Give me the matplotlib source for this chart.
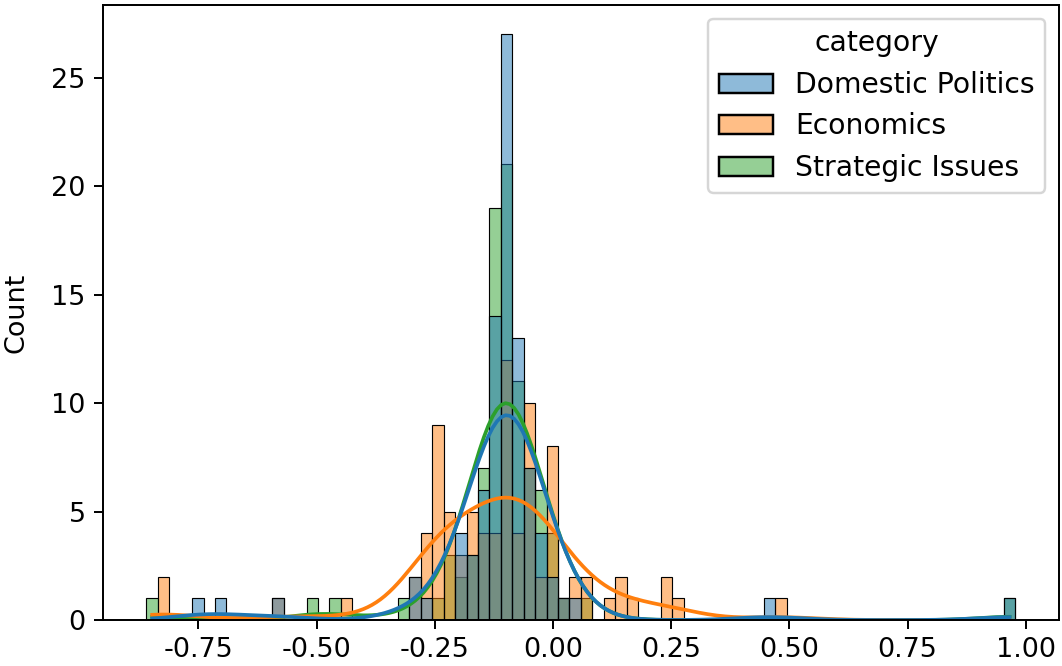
import numpy as np
import pandas as pd
import matplotlib
matplotlib.use("Agg")
import matplotlib.pyplot as plt
import seaborn as sns

# histogram layout
bin_lo, bin_hi, n_bins = -0.860, 0.978, 76

categories = ["Domestic Politics", "Economics", "Strategic Issues"]

# bin index -> count, per category
domestic_bins   = [4, 6, 11, 23, 24, 27, 28, 29, 30, 31, 32, 33, 34, 35, 36, 37, 54, 75]
domestic_counts = [1, 1, 1, 2, 1, 4, 3, 6, 14, 27, 13, 7, 4, 2, 1, 1, 1, 1]

economics_bins   = [1, 11, 17, 23, 24, 25, 26, 27, 28, 29, 30, 31, 32, 33, 34, 35, 36, 37, 38,
                    40, 41, 42, 45, 46, 55]
economics_counts = [2, 1, 1, 2, 4, 9, 5, 3, 5, 4, 4, 12, 4, 10, 2, 8, 1, 2, 2,
                    1, 2, 1, 2, 1, 1]

strategic_bins   = [0, 14, 16, 22, 25, 26, 27, 28, 29, 30, 31, 32, 33, 34, 35, 36, 38, 75]
strategic_counts = [1, 1, 1, 1, 1, 3, 2, 3, 7, 19, 21, 11, 7, 6, 4, 1, 1, 1]


def main():
    plt.rcParams['axes.unicode_minus'] = False
    plt.rcParams['font.size'] = 11
    width = (bin_hi - bin_lo) / n_bins
    rows = []
    for cat, bins, counts in zip(categories,
                                 [domestic_bins, economics_bins, strategic_bins],
                                 [domestic_counts, economics_counts, strategic_counts]):
        for b, c in zip(bins, counts):
            rows += [(bin_lo + (b + 0.5) * width, cat)] * c
    df = pd.DataFrame(rows, columns=["value", "category"])

    dpi = 177
    fig = plt.figure(figsize=(1062 / dpi, 666 / dpi), dpi=dpi)
    ax = fig.add_axes([0.097, 0.069, 0.9, 0.9235])
    sns.histplot(data=df, x="value", hue="category", hue_order=categories,
                 bins=n_bins, binrange=(bin_lo, bin_hi), kde=True, ax=ax)
    ax.set_xlabel("")
    ax.set_ylabel("Count", labelpad=9)
    ax.set_xticks([-0.75, -0.5, -0.25, 0, 0.25, 0.5, 0.75, 1.0])
    leg = ax.get_legend()
    for t in leg.get_texts():
        t.set_fontsize(11.5)
    leg.get_title().set_fontsize(11.5)
    fig.savefig("out.png", dpi=dpi)


main()
